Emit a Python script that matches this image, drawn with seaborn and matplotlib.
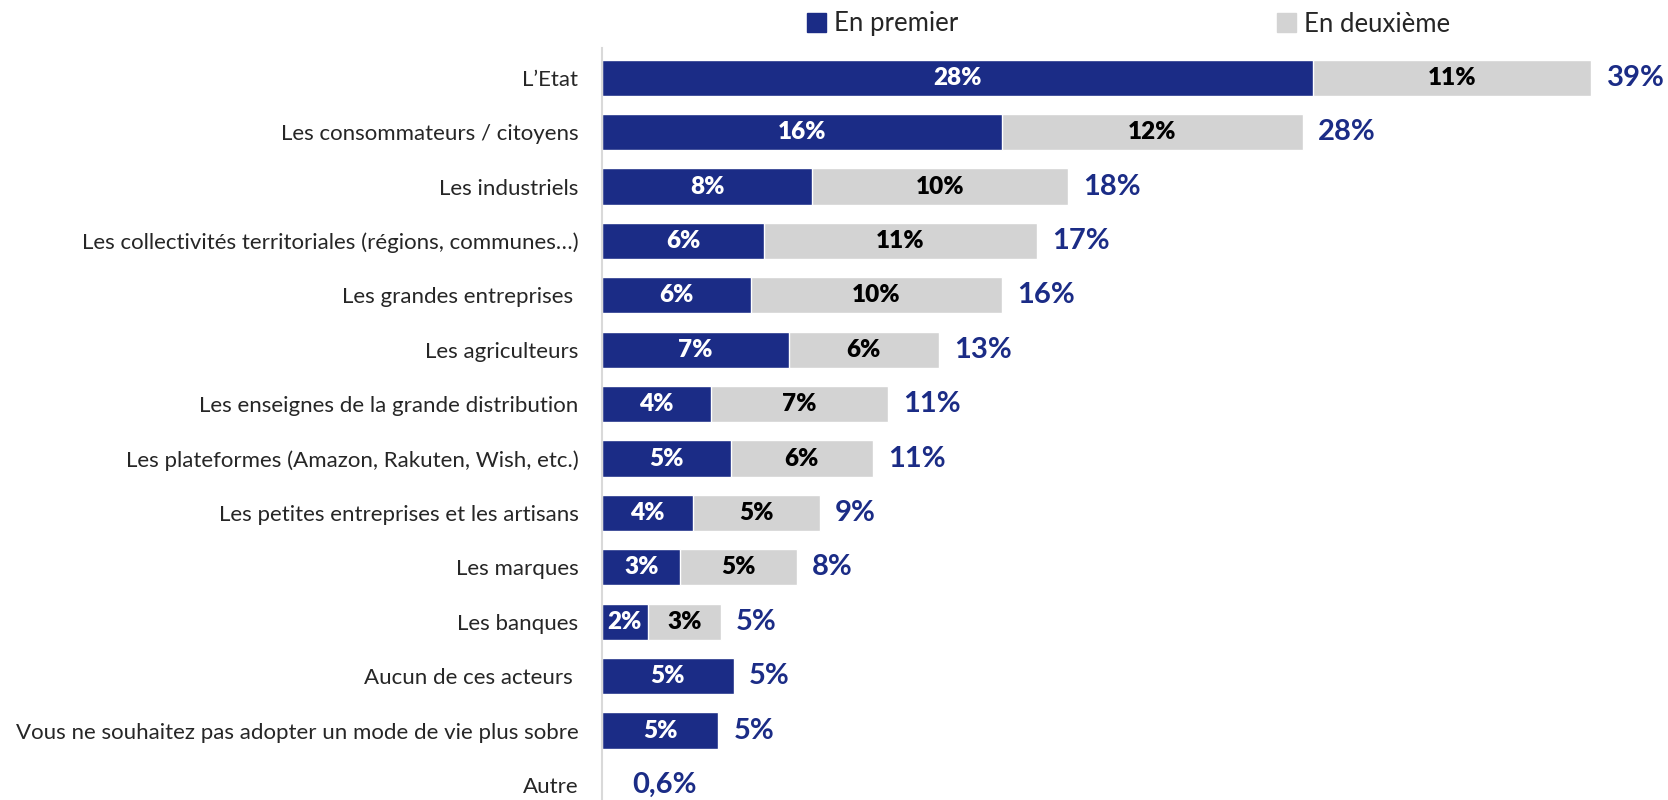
import numpy as np
import pandas as pd
import matplotlib.pyplot as plt
import matplotlib.patches as mpatches
import seaborn as sns

# Données (en %)
categories = [
    "L\u2019Etat",
    "Les consommateurs / citoyens",
    "Les industriels",
    "Les collectivités territoriales (régions, communes\u2026)",
    "Les grandes entreprises ",
    "Les agriculteurs",
    "Les enseignes de la grande distribution",
    "Les plateformes (Amazon, Rakuten, Wish, etc.)",
    "Les petites entreprises et les artisans",
    "Les marques",
    "Les banques",
    "Aucun de ces acteurs ",
    "Vous ne souhaitez pas adopter un mode de vie plus sobre",
    "Autre",
]
en_premier = [28.1, 15.8, 8.3, 6.4, 5.9, 7.4, 4.3, 5.1, 3.6, 3.1, 1.8, 5.2, 4.6, 0.6]
en_deuxieme = [11.0, 11.9, 10.1, 10.8, 9.9, 5.9, 7.0, 5.6, 5.0, 4.6, 2.9, 0.0, 0.0, 0.0]

NAVY = "#1B2C86"
GREY = "#D3D3D3"

sns.set_theme(style="white")
plt.rcParams['font.family'] = ['Lato', 'DejaVu Sans']

df = pd.DataFrame({"acteur": categories, "premier": en_premier, "deuxieme": en_deuxieme})
df["total"] = df["premier"] + df["deuxieme"]
# la ligne "Autre" n'a pas de barre visible
df["premier_bar"] = df["premier"].where(df["premier"] >= 1)
df["total_bar"] = df["total"].where(df["deuxieme"] > 0)

fig = plt.figure(figsize=(16.68, 8), dpi=100)
ax = fig.add_axes([602 / 1668, 0, 1 - 602 / 1668 - 0.002, 0.94])

sns.barplot(data=df, y="acteur", x="total_bar", orient="h", color=GREY,
            width=0.665, saturation=1, ax=ax)
sns.barplot(data=df, y="acteur", x="premier_bar", orient="h", color=NAVY,
            width=0.665, saturation=1, ax=ax)

ax.set_xlim(0, 42)
ax.set_ylim(13.276, -0.546)
ax.set_xlabel("")
ax.set_ylabel("")
ax.set_xticks([])

for s in ["top", "right", "bottom"]:
    ax.spines[s].set_visible(False)
ax.spines["left"].set_color("#D9D9D9")
ax.spines["left"].set_linewidth(1.5)

ax.tick_params(axis="y", which="major", length=0, pad=17, labelsize=16, labelcolor="#262626")
ax.set_yticks(np.arange(len(categories) - 1) + 0.5, minor=True)
ax.tick_params(axis="y", which="minor", length=5, width=1.5, color="#D9D9D9", direction="out")

for i, row in df.iterrows():
    if row["premier"] >= 1:
        ax.text(row["premier"] / 2, i, f"{row['premier']:.0f}%", ha="center", va="center",
                color="white", fontsize=17.5, fontweight="heavy")
    if row["deuxieme"] > 0:
        ax.text(row["premier"] + row["deuxieme"] / 2, i, f"{row['deuxieme']:.0f}%",
                ha="center", va="center", color="black", fontsize=17.5, fontweight="heavy")
    tot = row["total"]
    txt = f"{tot:.0f}%" if tot >= 1 else f"{tot:.1f}%".replace(".", ",")
    ax.annotate(txt, (tot, i), xytext=(11, 0), textcoords="offset points",
                ha="left", va="center", color=NAVY, fontsize=21, fontweight="bold")

handles = [mpatches.Patch(color=NAVY), mpatches.Patch(color=GREY)]
fig.legend(handles, ["En premier", "En deuxième"], loc="center left",
           bbox_to_anchor=(784 / 1668, 1 - 24 / 800), ncol=2, frameon=False,
           fontsize=18.5, handlelength=0.75, handleheight=0.75, handletextpad=0.3,
           columnspacing=12.4, labelcolor="#262626")

fig.savefig("out.png", dpi=100)
